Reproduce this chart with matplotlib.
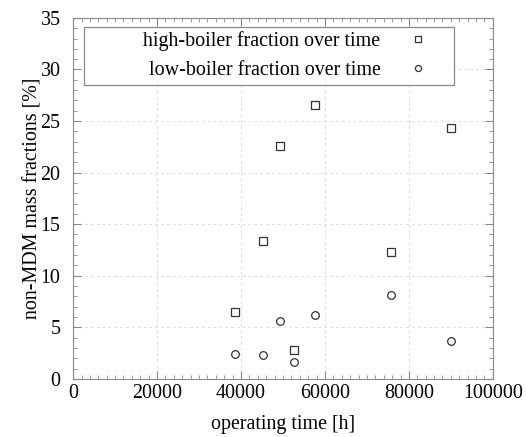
import matplotlib.pyplot as plt
from matplotlib.ticker import MultipleLocator

plt.rcParams['font.family'] = ['Liberation Serif', 'DejaVu Serif']

# operating time [h] for each measurement
time_h = [38500, 45200, 49200, 52700, 57600, 75800, 90000]
high_boiler = [6.5, 13.4, 22.6, 2.8, 26.6, 12.3, 24.3]
low_boiler = [2.4, 2.3, 5.6, 1.6, 6.2, 8.1, 3.7]

fs = 14.4
pad = ' ' * 11  # gnuplot-style legend: text pushed right towards the key

fig = plt.figure(figsize=(5.26, 4.37), dpi=100)
ax = fig.add_axes([0.139, 0.133, 0.798, 0.826])

ax.plot(time_h, high_boiler, linestyle='none', marker='s', markersize=5.5,
        markerfacecolor='none', markeredgecolor='#333333', markeredgewidth=0.9,
        label=pad + 'high-boiler fraction over time')
ax.plot(time_h, low_boiler, linestyle='none', marker='o', markersize=5.5,
        markerfacecolor='none', markeredgecolor='#333333', markeredgewidth=0.9,
        label=pad + 'low-boiler fraction over time')

ax.set_xlim(0, 100000)
ax.set_ylim(0, 35)
ax.xaxis.set_major_locator(MultipleLocator(20000))
ax.xaxis.set_minor_locator(MultipleLocator(2000))
ax.yaxis.set_major_locator(MultipleLocator(5))
ax.yaxis.set_minor_locator(MultipleLocator(1))
ax.tick_params(which='both', direction='in', top=True, right=True,
               color='#888888', labelsize=fs)
ax.tick_params(axis='x', which='major', pad=4)
ax.tick_params(axis='y', which='major', pad=9)
ax.tick_params(which='major', length=6)
ax.tick_params(which='minor', length=3)
for s in ax.spines.values():
    s.set_color('#888888')

ax.grid(True, which='major', linestyle=(0, (3, 3)), color='#dddddd', linewidth=0.7)
ax.set_xlabel('operating time [h]', fontsize=fs, labelpad=8)
ax.set_ylabel('non-MDM mass fractions [%]', fontsize=fs, labelpad=-1)

leg = ax.legend(loc='upper left', bbox_to_anchor=(0.026, 0.975), markerfirst=False,
                fontsize=fs, frameon=True, fancybox=False, edgecolor='#888888',
                framealpha=1, borderpad=0.22, handlelength=3.2, handletextpad=0.25,
                labelspacing=0.5, borderaxespad=0, markerscale=0.8)
leg.get_frame().set_linewidth(0.9)

fig.savefig('out.png', dpi=100)
